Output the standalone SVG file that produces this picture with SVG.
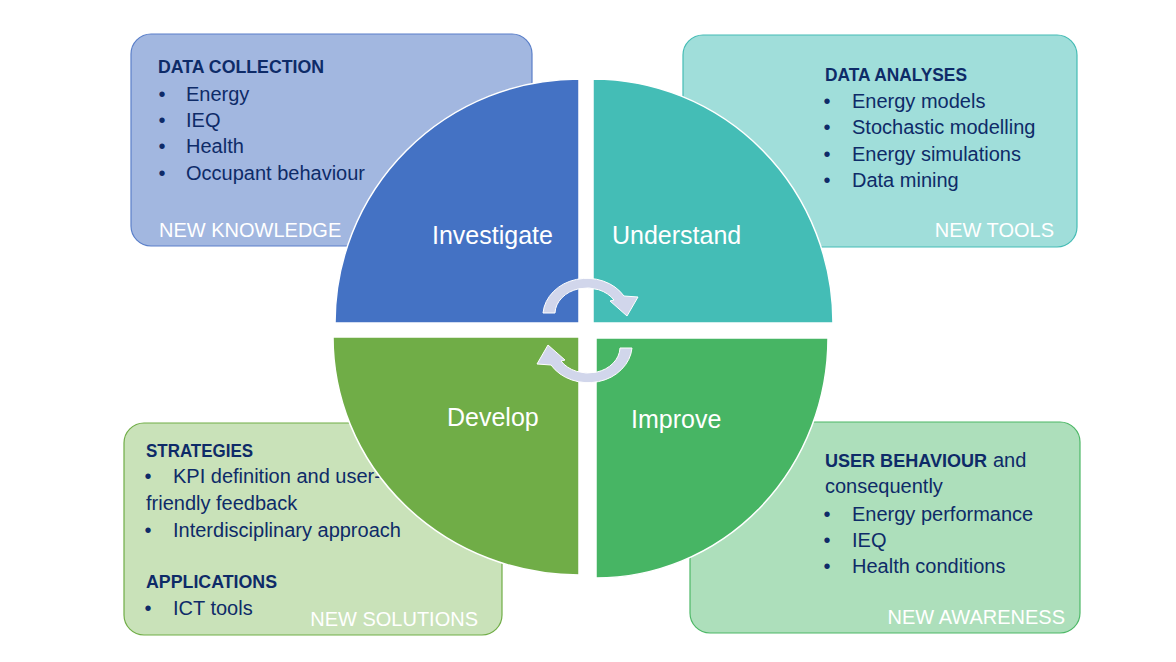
<svg xmlns="http://www.w3.org/2000/svg" width="1176" height="662" viewBox="0 0 1176 662">
<style>
text{font-family:"Liberation Sans",Arial,sans-serif}
.h{font-size:19px;font-weight:bold;fill:#0E2B68}
.b{font-size:20px;fill:#0E2B68}
.w{font-size:20px;fill:#FFFFFF}
.c{font-size:25px;fill:#FFFFFF}
.q{stroke:#FFFFFF;stroke-width:1.5}
.arr{fill:#D1D6EB;stroke:#FFFFFF;stroke-width:1}
</style>
<rect width="1176" height="662" fill="#FFFFFF"/>
<g id="box-knowledge">
<rect x="131" y="34" width="401" height="212" rx="20" fill="#A2B7E0" stroke="#5A7FC9" stroke-width="1.2"/>
<text class="h" x="158" y="73" textLength="166" lengthAdjust="spacingAndGlyphs">DATA COLLECTION</text>
<text class="b" x="162" y="101" text-anchor="middle">•</text><text class="b" x="186" y="101">Energy</text>
<text class="b" x="162" y="127" text-anchor="middle">•</text><text class="b" x="186" y="127">IEQ</text>
<text class="b" x="162" y="153" text-anchor="middle">•</text><text class="b" x="186" y="153">Health</text>
<text class="b" x="162" y="180" text-anchor="middle">•</text><text class="b" x="186" y="180">Occupant behaviour</text>
<text class="w" x="159" y="237">NEW KNOWLEDGE</text>
</g>
<g id="box-tools">
<rect x="683" y="35" width="394" height="212" rx="20" fill="#A0DEDA" stroke="#45BCB5" stroke-width="1.2"/>
<text class="h" x="825" y="81" textLength="142" lengthAdjust="spacingAndGlyphs">DATA ANALYSES</text>
<text class="b" x="827" y="107.5" text-anchor="middle">•</text><text class="b" x="852" y="107.5">Energy models</text>
<text class="b" x="827" y="134" text-anchor="middle">•</text><text class="b" x="852" y="134">Stochastic modelling</text>
<text class="b" x="827" y="160.5" text-anchor="middle">•</text><text class="b" x="852" y="160.5">Energy simulations</text>
<text class="b" x="827" y="187" text-anchor="middle">•</text><text class="b" x="852" y="187">Data mining</text>
<text class="w" x="1054" y="237" text-anchor="end">NEW TOOLS</text>
</g>
<g id="box-solutions">
<rect x="124" y="423" width="378" height="212" rx="20" fill="#C9E2B9" stroke="#70AD47" stroke-width="1.2"/>
<text class="h" x="146" y="457" textLength="107" lengthAdjust="spacingAndGlyphs">STRATEGIES</text>
<text class="b" x="148" y="483" text-anchor="middle">•</text><text class="b" x="173" y="483">KPI definition and user-</text>
<text class="b" x="146" y="510">friendly feedback</text>
<text class="b" x="148" y="537" text-anchor="middle">•</text><text class="b" x="173" y="537">Interdisciplinary approach</text>
<text class="h" x="146" y="588" textLength="131" lengthAdjust="spacingAndGlyphs">APPLICATIONS</text>
<text class="b" x="148" y="615" text-anchor="middle">•</text><text class="b" x="173" y="615">ICT tools</text>
<text class="w" x="478" y="626" text-anchor="end">NEW SOLUTIONS</text>
</g>
<g id="box-awareness">
<rect x="690" y="422" width="390" height="211" rx="20" fill="#ADDFBB" stroke="#4DB867" stroke-width="1.2"/>
<text class="h" x="825" y="467" textLength="162" lengthAdjust="spacingAndGlyphs">USER BEHAVIOUR</text>
<text class="b" x="993" y="467">and</text>
<text class="b" x="825" y="493">consequently</text>
<text class="b" x="827" y="521" text-anchor="middle">•</text><text class="b" x="852" y="521">Energy performance</text>
<text class="b" x="827" y="547" text-anchor="middle">•</text><text class="b" x="852" y="547">IEQ</text>
<text class="b" x="827" y="573" text-anchor="middle">•</text><text class="b" x="852" y="573">Health conditions</text>
<text class="w" x="1065" y="624" text-anchor="end">NEW AWARENESS</text>
</g>
<g id="investigate">
<path class="q" d="M579,323 L335,323 A244,244 0 0 1 579,79 Z" fill="#4472C4"/>
<text class="c" x="432" y="244">Investigate</text>
</g>
<g id="understand">
<path class="q" d="M593,323 L593,79 A240,244 0 0 1 833,323 Z" fill="#44BDB6"/>
<text class="c" x="612" y="244">Understand</text>
</g>
<g id="develop">
<path class="q" d="M579,337 L579,575 A246,238 0 0 1 333,337 Z" fill="#70AD47"/>
<text class="c" x="447" y="426">Develop</text>
</g>
<g id="improve">
<path class="q" d="M596,338 L828,338 A232,240 0 0 1 596,578 Z" fill="#47B564"/>
<text class="c" x="631" y="428">Improve</text>
</g>
<g id="connectors">
<path class="arr" d="M543,313 A44,38 0 0 1 624,296 L638,297 L627,316 L610,301 L614,300 A32,26 0 0 0 555,313 Z"/>
<path class="arr" transform="rotate(180 587.5 330.5)" d="M543,313 A44,38 0 0 1 624,296 L638,297 L627,316 L610,301 L614,300 A32,26 0 0 0 555,313 Z"/>
</g>
</svg>
